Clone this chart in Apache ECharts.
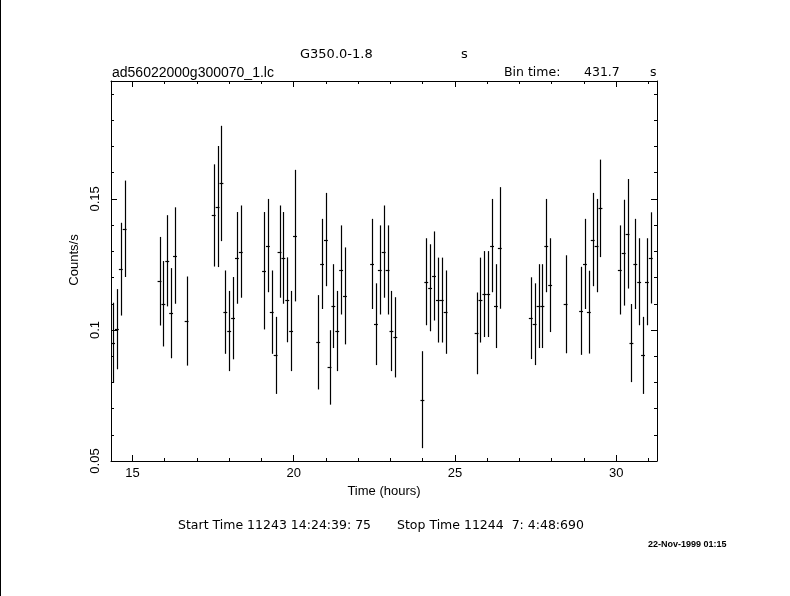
<!DOCTYPE html>
<html>
<head>
<meta charset="utf-8">
<script src="https://cdn.jsdelivr.net/npm/echarts@6/dist/echarts.min.js"></script>
<style>
html,body{margin:0;padding:0;background:#fff;}
#chart{width:790px;height:596px;}
</style>
</head>
<body>
<div id="chart"></div>
<script>
// ---- data ----
const binTimeSec = 431.7;
const timesHours = [14.40,14.52,14.64,14.76,15.84,15.96,16.08,16.20,16.32,16.68,
  17.52,17.64,17.76,17.88,18.00,18.12,18.24,18.36,19.08,19.20,
  19.32,19.44,19.56,19.68,19.80,19.92,20.04,20.76,20.88,21.00,
  21.11,21.23,21.35,21.47,21.59,22.43,22.55,22.67,22.79,22.91,
  23.03,23.15,23.99,24.11,24.23,24.35,24.47,24.59,24.71,25.67,
  25.79,25.91,26.03,26.15,26.27,26.39,27.35,27.47,27.59,27.71,
  27.83,27.95,28.43,28.91,29.03,29.15,29.27,29.39,29.51,30.11,
  30.23,30.35,30.47,30.59,30.71,30.83,30.95,31.07];
const countRates = [0.0951,0.1003,0.1232,0.1386,0.1186,0.1100,0.1264,0.1064,0.1284,0.1034,
  0.1437,0.1471,0.1559,0.1068,0.0996,0.1045,0.1275,0.1299,0.1226,0.1322,
  0.1068,0.0903,0.1299,0.1275,0.1115,0.0996,0.1360,0.0953,0.1252,0.1345,
  0.0857,0.1091,0.0996,0.1229,0.1130,0.1252,0.1022,0.1229,0.1299,0.1229,
  0.0996,0.0972,0.0734,0.1184,0.1161,0.1206,0.1114,0.1114,0.1068,0.0987,
  0.1114,0.1137,0.1137,0.1322,0.1091,0.1313,0.1045,0.1022,0.1091,0.1091,
  0.1322,0.1171,0.1098,0.1073,0.1252,0.1068,0.1345,0.1322,0.1464,0.1229,
  0.1295,0.1367,0.0950,0.1252,0.1184,0.0903,0.1184,0.1275];
const countErrors = [0.0153,0.0153,0.0177,0.0184,0.0169,0.0163,0.0174,0.0172,0.0184,0.0170,
  0.0195,0.0231,0.0220,0.0159,0.0153,0.0157,0.0175,0.0176,0.0224,0.0178,
  0.0159,0.0147,0.0176,0.0175,0.0162,0.0153,0.0251,0.0180,0.0172,0.0178,
  0.0142,0.0160,0.0153,0.0170,0.0185,0.0172,0.0156,0.0170,0.0176,0.0170,
  0.0153,0.0153,0.0185,0.0166,0.0166,0.0170,0.0162,0.0162,0.0159,0.0156,
  0.0162,0.0164,0.0164,0.0178,0.0160,0.0232,0.0156,0.0156,0.0160,0.0160,
  0.0178,0.0179,0.0187,0.0168,0.0172,0.0158,0.0178,0.0178,0.0186,0.0170,
  0.0202,0.0209,0.0149,0.0172,0.0166,0.0147,0.0166,0.0174];
const xMajorTicks = [15, 20, 25, 30];
const xMinorTicks = [15,16,17,18,19,20,21,22,23,24,25,26,27,28,29,30,31];
const yMajorTicks = [0.05, 0.1, 0.15];
const yMinorTicks = [0.05,0.06,0.07,0.08,0.09,0.10,0.11,0.12,0.13,0.14,0.15,0.16,0.17,0.18,0.19];
const xRange = [14.336, 31.263];
const yRange = [0.05, 0.195];

// ---- texts ----
const sourceName = 'G350.0-1.8';
const fileName = 'ad56022000g300070_1.lc';
const startText = 'Start Time 11243 14:24:39: 75';
const stopText = 'Stop Time 11244  7: 4:48:690';
const dateText = '22-Nov-1999 01:15';

const FONT = '"Liberation Sans", Arial, Helvetica, sans-serif';
const FONT2 = '"DejaVu Sans", sans-serif';
const halfBinHours = binTimeSec / 3600 / 2;
const seriesData = timesHours.map((t, i) => [t, countRates[i], countErrors[i]]);

function mkX(pos, tickLen, ticks, withLabel, showLine) {
  return {
    type: 'value', position: pos, min: xRange[0], max: xRange[1],
    axisLine: { show: showLine, onZero: false, lineStyle: { color: '#000', width: 1 } },
    axisTick: { show: true, inside: true, length: tickLen, customValues: ticks, lineStyle: { color: '#000', width: 1 } },
    axisLabel: withLabel ? { show: true, customValues: ticks, margin: 6, color: '#000', fontSize: 13, fontFamily: FONT } : { show: false },
    splitLine: { show: false },
    name: withLabel ? 'Time (hours)' : '',
    nameLocation: 'middle', nameGap: 22,
    nameTextStyle: { color: '#000', fontSize: 13, fontFamily: FONT }
  };
}
function mkY(pos, tickLen, ticks, withLabel, showLine) {
  return {
    type: 'value', position: pos, min: yRange[0], max: yRange[1],
    axisLine: { show: showLine, onZero: false, lineStyle: { color: '#000', width: 1 } },
    axisTick: { show: true, inside: true, length: tickLen, customValues: ticks, lineStyle: { color: '#000', width: 1 } },
    axisLabel: withLabel ? { show: true, customValues: ticks, rotate: 90, margin: 9, color: '#000', fontSize: 13, fontFamily: FONT } : { show: false },
    splitLine: { show: false }
  };
}
function txt(x, y, s, font, extra) {
  return Object.assign({ type: 'text', x: x, y: y,
    style: { text: s, fill: '#000', font: font, textVerticalAlign: 'middle', verticalAlign: 'middle' } }, extra || {});
}

const chart = echarts.init(document.getElementById('chart'), null, { renderer: 'canvas' });
chart.setOption({
  backgroundColor: '#fff',
  animation: false,
  grid: { left: 111, top: 81, width: 546, height: 380, containLabel: false, outerBoundsMode: 'none' },
  xAxis: [
    mkX('bottom', 6, xMajorTicks, true, true),
    mkX('bottom', 3, xMinorTicks, false, false),
    mkX('top', 6, xMajorTicks, false, true),
    mkX('top', 3, xMinorTicks, false, false)
  ],
  yAxis: [
    mkY('left', 6, yMajorTicks, true, true),
    mkY('left', 3, yMinorTicks, false, false),
    mkY('right', 6, yMajorTicks, false, true),
    mkY('right', 3, yMinorTicks, false, false)
  ],
  series: [{
    type: 'custom',
    xAxisIndex: 0, yAxisIndex: 0,
    data: seriesData,
    clip: true,
    renderItem: function (params, api) {
      const t = api.value(0), v = api.value(1), e = api.value(2);
      const top = api.coord([t, v + e]);
      const bot = api.coord([t, v - e]);
      const l = api.coord([t - halfBinHours, v]);
      const r = api.coord([t + halfBinHours, v]);
      const cx = Math.round(top[0]) + 0.5;
      const cy = Math.round(l[1]) + 0.5;
      const st = { stroke: '#000', lineWidth: 1.2 };
      return {
        type: 'group',
        children: [
          { type: 'line', shape: { x1: cx, y1: top[1], x2: cx, y2: bot[1] }, style: st },
          { type: 'line', shape: { x1: l[0], y1: cy, x2: r[0], y2: cy }, style: st }
        ]
      };
    }
  }],
  graphic: [
    { type: 'rect', shape: { x: 0, y: 0, width: 1, height: 596 }, style: { fill: '#000' } },
    txt(300, 55, sourceName, '13px ' + FONT2),
    txt(461, 55, 's', '13px ' + FONT2),
    txt(112, 73, fileName, '14px ' + FONT),
    txt(504, 73, 'Bin time:', '12.5px ' + FONT2),
    txt(584, 73, String(binTimeSec), '12.5px ' + FONT2),
    txt(650, 73, 's', '12.5px ' + FONT2),
    { type: 'text', x: 74, y: 260, rotation: Math.PI / 2,
      style: { text: 'Counts/s', fill: '#000', font: '13px ' + FONT, textAlign: 'center', align: 'center', textVerticalAlign: 'middle', verticalAlign: 'middle' } },
    txt(178, 526, startText, '12.5px ' + FONT2),
    txt(397, 526, stopText, '12.5px ' + FONT2),
    txt(648, 545, dateText, 'bold 9px ' + FONT)
  ]
});
</script>
</body>
</html>
